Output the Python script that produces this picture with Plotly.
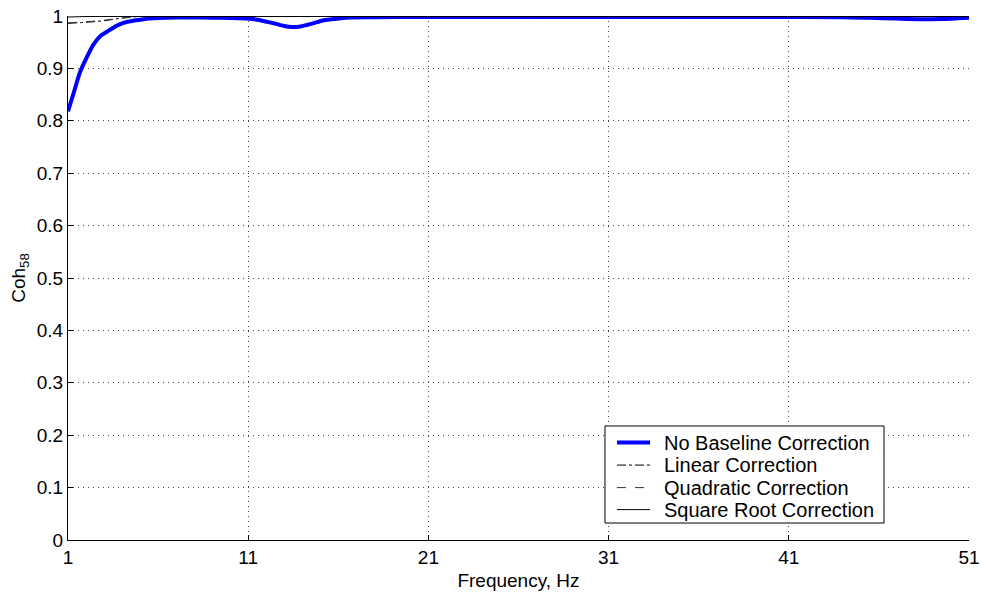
import plotly.graph_objects as go

# Frequency (Hz) and coherence values
freq_nb = [1, 1.33, 1.67, 2, 2.4, 2.8, 3.3, 3.8, 4.3, 5.2, 6, 7, 8, 9, 10, 10.6, 11.5, 12.3, 13, 13.4, 13.9, 14.5, 15.2, 16, 16.6, 18, 20, 25, 30, 35, 40, 44, 45.5, 47, 48.3, 49.5, 50.3, 51]
coh_nb = [0.818, 0.855, 0.893, 0.918, 0.945, 0.962, 0.973, 0.983, 0.989, 0.994, 0.996, 0.997, 0.997, 0.9968, 0.9962, 0.9956, 0.993, 0.987, 0.981, 0.979, 0.980, 0.985, 0.992, 0.995, 0.997, 0.9975, 0.998, 0.998, 0.998, 0.998, 0.998, 0.9978, 0.9965, 0.995, 0.994, 0.9945, 0.9955, 0.9965]

freq_c = [1, 2, 3, 4, 5, 6, 8, 12, 20, 30, 40, 51]
coh_lin = [0.986, 0.988, 0.991, 0.996, 0.999, 0.999, 0.999, 0.999, 0.999, 0.999, 0.999, 0.999]
coh_quad = [0.987, 0.989, 0.992, 0.996, 0.999, 0.999, 0.999, 0.999, 0.999, 0.999, 0.999, 0.999]
coh_sqrt = [0.998, 0.999, 0.999, 0.999, 0.999, 0.999, 0.999, 0.999, 0.999, 0.999, 0.999, 0.999]

series_names = ["No Baseline Correction", "Linear Correction", "Quadratic Correction", "Square Root Correction"]

x_ticks = [1, 11, 21, 31, 41, 51]
y_ticks = [0, 0.1, 0.2, 0.3, 0.4, 0.5, 0.6, 0.7, 0.8, 0.9, 1]
y_tick_text = ["0", "0.1", "0.2", "0.3", "0.4", "0.5", "0.6", "0.7", "0.8", "0.9", "1"]

FONT = "Liberation Sans, Arial, Helvetica, sans-serif"

styles = [
    dict(color="#0000ff", width=4, dash="solid"),
    dict(color="black", width=1, dash="dashdot"),
    dict(color="#333333", width=1, dash="dash"),
    dict(color="black", width=1, dash="solid"),
]
xs = [freq_nb, freq_c, freq_c, freq_c]
ys = [coh_nb, coh_lin, coh_quad, coh_sqrt]

fig = go.Figure()
for name, x, y, st in zip(series_names, xs, ys, styles):
    fig.add_trace(go.Scatter(x=x, y=y, mode="lines", name=name, showlegend=False,
                             line=dict(shape="spline", smoothing=0.8, **st)))

axis_common = dict(
    showline=True, linecolor="black", linewidth=1, mirror=False,
    ticks="inside", ticklen=5, tickcolor="black", tickwidth=1,
    showgrid=True, gridcolor="#444444", gridwidth=1, griddash="1px,4px",
    zeroline=False, automargin=False,
    tickfont=dict(family=FONT, size=19, color="black"),
)

fig.update_xaxes(range=[1, 51], tickvals=x_ticks, ticktext=[str(v) for v in x_ticks],
                 title=dict(text="Frequency, Hz", font=dict(family=FONT, size=19, color="black"), standoff=6),
                 **axis_common)
fig.update_yaxes(range=[0, 1], tickvals=y_ticks, ticktext=y_tick_text,
                 title=dict(text="Coh<sub>58</sub>", font=dict(family=FONT, size=19, color="black"), standoff=6),
                 **axis_common)

# Legend box drawn in paper coordinates (MATLAB-style legend)
lg_x0, lg_x1, lg_y0, lg_y1 = 0.596, 0.9057, 0.0324, 0.2176
row_y = [0.186, 0.143, 0.100, 0.058]
line_x0, line_x1, text_x = 0.6093, 0.646, 0.6593

fig.add_shape(type="rect", xref="paper", yref="paper", x0=lg_x0, x1=lg_x1, y0=lg_y0, y1=lg_y1,
              line=dict(color="black", width=1), fillcolor="white", layer="above")
for name, ry, st in zip(series_names, row_y, styles):
    fig.add_shape(type="line", xref="paper", yref="paper", x0=line_x0, x1=line_x1, y0=ry, y1=ry,
                  line=st, layer="above")
    fig.add_annotation(xref="paper", yref="paper", x=text_x, y=ry, text=name, showarrow=False,
                       xanchor="left", yanchor="middle",
                       font=dict(family=FONT, size=20, color="black"))

fig.update_layout(
    width=982, height=599,
    margin=dict(l=68, r=13, t=16, b=59),
    paper_bgcolor="white", plot_bgcolor="white",
    font=dict(family=FONT, size=19, color="black"),
    showlegend=False,
)

fig.write_html("out.html")
